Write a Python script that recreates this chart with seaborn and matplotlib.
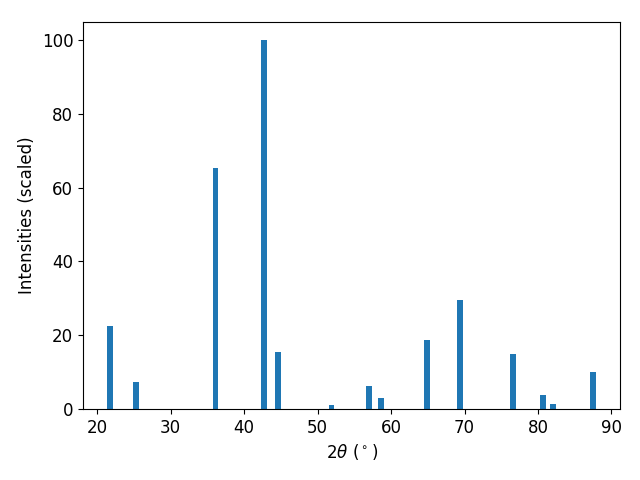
import matplotlib
matplotlib.use("Agg")
import matplotlib.pyplot as plt
import seaborn as sns

# Peak positions (2 theta, degrees) and scaled intensities
two_theta = [21.8, 25.3, 36.1, 42.7, 44.6, 51.9, 57.0, 58.6, 64.9, 69.4, 76.6, 80.7, 82.1, 87.5]
intensity = [22.5, 7.3, 65.3, 100.0, 15.4, 1.1, 6.2, 3.0, 18.7, 29.5, 14.9, 3.8, 1.4, 10.0]

plt.rcParams['font.family'] = ['DejaVu Sans']
plt.rcParams['font.size'] = 12

fig, ax = plt.subplots(figsize=(6.4, 4.8), dpi=100)
ax.bar(two_theta, intensity, width=0.8, color=sns.color_palette("tab10")[0], linewidth=0)
ax.set_xlabel(r"2$\theta$ ($^\circ$)")
ax.set_ylabel("Intensities (scaled)")

fig.subplots_adjust(left=0.1297, right=0.9695, top=0.955, bottom=0.148)
fig.savefig('out.png')
